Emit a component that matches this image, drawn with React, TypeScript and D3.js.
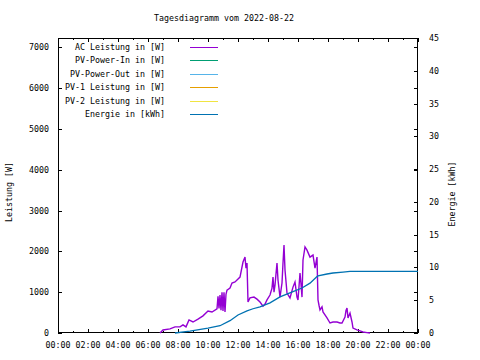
import React, { useEffect, useRef } from 'react'
import * as d3 from 'd3'

// Tagesdiagramm 2022-08-22, values
const acTimes = ['06:48', '07:00', '07:28', '07:48', '08:08', '08:20', '08:32', '08:44', '09:00', '09:20', '09:40', '10:00', '10:16', '10:36', '10:40', '10:44', '10:48', '10:52', '10:56', '11:00', '11:04', '11:08', '11:12', '11:16', '11:28', '11:36', '11:48', '12:08', '12:20', '12:28', '12:32', '12:36', '12:40', '12:48', '13:04', '13:16', '13:28', '13:40', '13:48', '13:56', '14:08', '14:16', '14:20', '14:24', '14:28', '14:32', '14:36', '14:40', '14:48', '14:56', '15:00', '15:04', '15:08', '15:16', '15:28', '15:40', '15:48', '15:56', '16:00', '16:08', '16:12', '16:16', '16:20', '16:28', '16:36', '16:48', '17:00', '17:08', '17:16', '17:20', '17:24', '17:28', '17:36', '17:40', '17:56', '18:08', '18:20', '18:36', '18:48', '18:56', '19:08', '19:12', '19:16', '19:20', '19:28', '19:36', '19:40', '19:56', '20:08', '20:20', '20:36', '20:48']
const acWatts = [0, 75, 100, 150, 150, 200, 150, 320, 270, 340, 420, 540, 515, 590, 900, 600, 930, 560, 1000, 540, 1000, 515, 950, 1050, 1100, 1225, 1250, 1370, 1740, 1860, 1590, 1715, 760, 860, 880, 830, 760, 660, 710, 810, 930, 1100, 1370, 1000, 1175, 1450, 1715, 1300, 880, 1225, 1715, 2155, 1545, 980, 860, 1125, 1250, 880, 810, 1470, 1200, 880, 1790, 2110, 2030, 1860, 1910, 1590, 1860, 810, 680, 565, 640, 515, 370, 245, 270, 270, 245, 245, 390, 550, 610, 370, 490, 270, 120, 75, 50, 25, 10, 0]

const energyTimes = ['07:48', '08:48', '10:00', '10:48', '11:28', '12:00', '12:36', '13:00', '13:28', '14:08', '14:48', '15:40', '16:16', '16:48', '17:16', '17:20', '17:56', '18:20', '19:00', '19:28', '24:00']
const energyKwh = [0, 0.3, 0.76, 1.11, 1.88, 2.75, 3.36, 3.7, 4.0, 4.6, 5.5, 6.3, 6.86, 7.6, 8.6, 8.7, 9.0, 9.15, 9.3, 9.41, 9.41]

const xTickLabels = ['00:00', '02:00', '04:00', '06:00', '08:00', '10:00', '12:00', '14:00', '16:00', '18:00', '20:00', '22:00', '00:00']
const yTicks = [0, 1000, 2000, 3000, 4000, 5000, 6000, 7000]
const y2Ticks = [0, 5, 10, 15, 20, 25, 30, 35, 40, 45]

const legendLabels = ['AC Leistung in [W]', 'PV-Power-In in [W]', 'PV-Power-Out in [W]', 'PV-1 Leistung in [W]', 'PV-2 Leistung in [W]', 'Energie in [kWh]']
const legendColors = ['#9400d3', '#009e73', '#56b4e9', '#e69f00', '#f0e442', '#0072b2']

const W = 480, H = 360
const LEFT = 58, RIGHT = 418, TOP = 38, BOTTOM = 333
const FONT = 'DejaVu Sans Mono, monospace'

const toHours = (s: string) => {
  const [h, m] = s.split(':').map(Number)
  return h + m / 60
}

export default function App() {
  const ref = useRef<SVGSVGElement>(null)

  useEffect(() => {
    const svg = d3.select(ref.current)
    svg.selectAll('*').remove()

    const x = d3.scaleLinear().domain([0, 24]).range([LEFT, RIGHT])
    const y = d3.scaleLinear().domain([0, 7230]).range([BOTTOM, TOP])
    const y2 = d3.scaleLinear().domain([0, 45]).range([BOTTOM, TOP])

    svg.append('rect').attr('width', W).attr('height', H).attr('fill', '#fff')

    const txt = (sel: any) => sel.attr('font-family', FONT).attr('font-size', 8.3).attr('fill', '#000')

    // title
    svg.append('text').attr('x', 224).attr('y', 21).attr('text-anchor', 'middle')
      .call(txt).text('Tagesdiagramm vom 2022-08-22')

    const g = svg.append('g').attr('shape-rendering', 'crispEdges')

    // x ticks (bottom + mirrored top), minor every hour
    d3.range(0, 25).forEach(h => {
      const len = h % 2 === 0 ? 4 : 2
      const px = Math.round(x(h)) + 0.5
      g.append('line').attr('x1', px).attr('x2', px).attr('y1', BOTTOM).attr('y2', BOTTOM - len).attr('stroke', '#000')
      g.append('line').attr('x1', px).attr('x2', px).attr('y1', TOP).attr('y2', TOP + len).attr('stroke', '#000')
    })
    xTickLabels.forEach((l, i) => {
      svg.append('text').attr('x', x(i * 2)).attr('y', 348).attr('text-anchor', 'middle').call(txt).text(l)
    })

    // y ticks left (mirrored on right)
    yTicks.forEach(v => {
      const py = Math.round(y(v)) + 0.5
      g.append('line').attr('x1', LEFT).attr('x2', LEFT + 4).attr('y1', py).attr('y2', py).attr('stroke', '#000')
      g.append('line').attr('x1', RIGHT).attr('x2', RIGHT - 4).attr('y1', py).attr('y2', py).attr('stroke', '#000')
      svg.append('text').attr('x', 49).attr('y', y(v) + 3).attr('text-anchor', 'end').call(txt).text(v)
    })

    // y2 ticks right
    y2Ticks.forEach(v => {
      const py = Math.round(y2(v)) + 0.5
      g.append('line').attr('x1', RIGHT).attr('x2', RIGHT - 4).attr('y1', py).attr('y2', py).attr('stroke', '#000')
      svg.append('text').attr('x', 429).attr('y', y2(v) + 3).attr('text-anchor', 'start').call(txt).text(v)
    })

    // axis titles
    svg.append('text').attr('transform', 'translate(12,192) rotate(-90)').attr('text-anchor', 'middle')
      .call(txt).text('Leistung [W]')
    svg.append('text').attr('transform', 'translate(455,194) rotate(-90)').attr('text-anchor', 'middle')
      .call(txt).text('Energie [kWh]')

    // frame
    g.append('rect').attr('x', LEFT + 0.5).attr('y', TOP + 0.5)
      .attr('width', RIGHT - LEFT - 1).attr('height', BOTTOM - TOP - 1)
      .attr('fill', 'none').attr('stroke', '#000')

    // legend
    legendLabels.forEach((l, i) => {
      const ly = 47 + i * 13.4
      svg.append('text').attr('x', 165).attr('y', ly + 3).attr('text-anchor', 'end').call(txt).text(l)
      g.append('line').attr('x1', 190).attr('x2', 218).attr('y1', Math.round(ly) + 0.5).attr('y2', Math.round(ly) + 0.5)
        .attr('stroke', legendColors[i])
    })

    // series
    const acData = acTimes.map((t, i) => [toHours(t), acWatts[i]] as [number, number])
    const enData = energyTimes.map((t, i) => [toHours(t), energyKwh[i]] as [number, number])

    svg.append('path').datum(acData)
      .attr('d', d3.line<[number, number]>().x(d => x(d[0])).y(d => y(d[1])))
      .attr('fill', 'none').attr('stroke', legendColors[0]).attr('stroke-width', 1.4)

    svg.append('path').datum(enData)
      .attr('d', d3.line<[number, number]>().x(d => x(d[0])).y(d => y2(d[1])))
      .attr('fill', 'none').attr('stroke', legendColors[5]).attr('stroke-width', 1.3)
  }, [])

  return <svg ref={ref} width={W} height={H} style={{ position: 'absolute', left: 0, top: 0 }} />
}
